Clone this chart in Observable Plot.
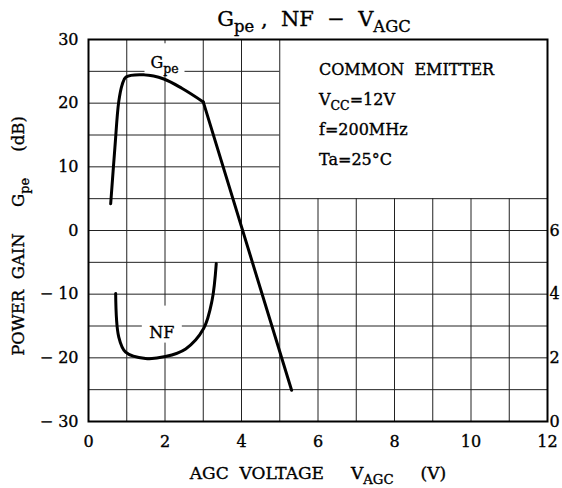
<!DOCTYPE html>
<html><head><meta charset="utf-8">
<script src="https://cdn.jsdelivr.net/npm/d3@7"></script>
<script src="https://cdn.jsdelivr.net/npm/@observablehq/plot@0.6"></script>
<style>
body{margin:0;background:#fff;}
svg text{white-space:pre;stroke:#000;stroke-width:0.35px;fill:#000;}
</style>
</head><body><div id="chart"></div>
<script>
// Gpe (dB) vs AGC voltage (V) - rounded part then straight falloff
const gpeCurveV = [0.58, 0.69, 0.79, 0.88, 0.98, 1.45, 1.97, 2.45, 3.0];
const gpeCurveDb = [4.2, 13, 20.2, 22.9, 24.1, 24.45, 23.8, 22.3, 20.2];
const gpeLineV = [3.0, 5.31];
const gpeLineDb = [20.2, -25.1];
// NF (dB) vs AGC voltage (V), right axis
const nfV = [0.71, 0.79, 0.97, 1.49, 2.01, 2.54, 3.01, 3.23, 3.34];
const nfDb = [4.02, 2.66, 2.18, 1.98, 2.04, 2.28, 2.92, 3.8, 4.96];

const xTicks = [0, 2, 4, 6, 8, 10, 12];
const yTicks = [-30, -20, -10, 0, 10, 20, 30];
const nfTicks = [0, 2, 4, 6];
const vGrid = [1,2,3,4,5,6,7,8,9,10,11];
const hGrid = [-25,-20,-15,-10,-5,0,5,10,15,20,25];
// legend box region (no grid inside): V >= 5, dB >= 5
const boxV = 5, boxDb = 5;
const legendLines = [
  [["COMMON  EMITTER"]],
  [["V"],["CC","sub"],["=12V"]],
  [["f=200MHz"]],
  [["Ta=25°C"]]
];

const nfToY = n => n * 5 - 30;
const gpe1 = gpeCurveV.map((v,i)=>({v, db: gpeCurveDb[i]}));
const gpe2 = gpeLineV.map((v,i)=>({v, db: gpeLineDb[i]}));
const nf = nfV.map((v,i)=>({v, db: nfToY(nfDb[i])}));

const FONT = "DejaVu Serif";
const plot = Plot.plot({
  width: 562, height: 488,
  marginLeft: 88, marginRight: 15, marginTop: 39, marginBottom: 67,
  x: {domain: [0, 12]},
  y: {domain: [-30, 30]},
  style: {fontFamily: FONT, fontSize: "16px", color: "#000", background: "#fff"},
  marks: [
    Plot.ruleX(vGrid, {x: d=>d, y1: -30, y2: d => d > boxV ? boxDb : 30, stroke: "#222", strokeWidth: 1}),
    Plot.ruleY(hGrid, {y: d=>d, x1: 0, x2: d => d > boxDb ? boxV : 12, stroke: "#222", strokeWidth: 1}),
    Plot.frame({stroke: "#000", strokeWidth: 2}),
    Plot.axisY({ticks: yTicks, tickSize: 0, tickPadding: 10, label: null, tickFormat: d => d < 0 ? "− " + (-d) : String(d)}),
    Plot.axisY({anchor: "right", ticks: nfTicks.map(nfToY), tickSize: 0, tickPadding: 2, label: null, tickFormat: d => String((d + 30) / 5)}),
    Plot.axisX({ticks: xTicks, tickSize: 0, tickPadding: 14, label: null}),
    Plot.line(gpe1, {x: "v", y: "db", curve: "catmull-rom", stroke: "#000", strokeWidth: 3}),
    Plot.line(gpe2, {x: "v", y: "db", stroke: "#000", strokeWidth: 3}),
    Plot.line(nf, {x: "v", y: "db", curve: "catmull-rom", stroke: "#000", strokeWidth: 3})
  ]
});
document.getElementById("chart").appendChild(plot);

const svg = d3.select(plot);
const sx = plot.scale("x").apply, sy = plot.scale("y").apply;

function rich(g, parts, x, y, size, anchor, extra) {
  const t = g.append("text").attr("x", x).attr("y", y)
    .attr("font-family", FONT).attr("font-size", size)
    .attr("text-anchor", anchor || "start");
  if (extra) extra(t);
  let sub = false;
  parts.forEach(p => {
    const ts = t.append("tspan").text(p[0]);
    if (p[1] === "sub" && !sub) { ts.attr("dy", size * 0.3).attr("font-size", size * 0.78); sub = true; }
    else if (p[1] !== "sub" && sub) { ts.attr("dy", -size * 0.3); sub = false; }
    else if (p[1] === "sub") ts.attr("font-size", size * 0.78);
  });
  return t;
}

const g = svg.append("g");
// curve labels with white backing
const labels = [
  {parts: [["G"],["pe","sub"]], v: 2.0, db: 25.4, w: 40, h: 30},
  {parts: [["NF"]], v: 1.93, db: -16.9, w: 40, h: 37}
];
labels.forEach(l => {
  const cx = sx(l.v), by = sy(l.db);
  g.append("rect").attr("x", cx - l.w/2).attr("y", by - l.h + 5).attr("width", l.w).attr("height", l.h).attr("fill", "#fff");
  rich(g, l.parts, cx, by, 16, "middle");
});
// legend
legendLines.forEach((parts, i) => rich(g, parts, 319, 75 + i * 30, 16, "start"));
// title
rich(g, [["G"],["pe","sub"],[" ,  NF  −  V"],["AGC","sub"]], 314, 26, 21, "middle");
// x label
rich(g, [["AGC  VOLTAGE     V"],["AGC","sub"],["     (V)"]], 318, 479, 17, "middle");
// y label
rich(g, [["POWER  GAIN     G"],["pe","sub"],["     (dB)"]], 0, 0, 16.5, "middle",
  t => t.attr("transform", "translate(24,236) rotate(-90)"));
</script></body></html>
